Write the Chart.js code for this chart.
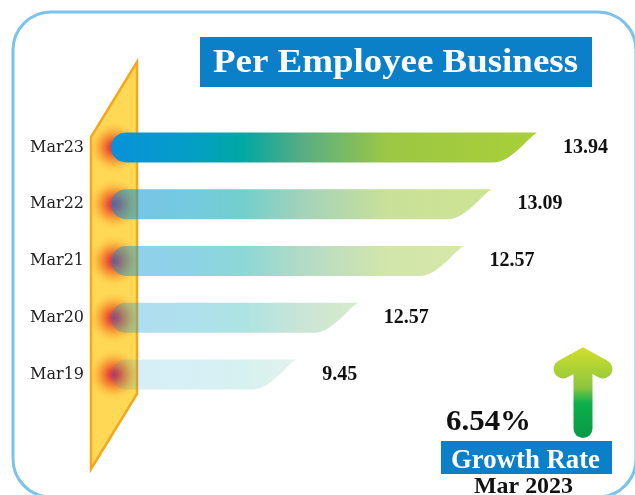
<!DOCTYPE html>
<html>
<head>
<meta charset="utf-8">
<title>Per Employee Business</title>
<script src="https://cdn.jsdelivr.net/npm/chart.js@4.4.0/dist/chart.umd.min.js"></script>
<style>
  html, body { margin: 0; padding: 0; background: #ffffff; }
  #grafico { display: block; }
</style>
</head>
<body>
<canvas id="grafico" width="635" height="495"></canvas>
<script>
// Datos del gráfico (de arriba hacia abajo)
var categorias = ["Mar23", "Mar22", "Mar21", "Mar20", "Mar19"];
// longitud de cada barra
var valoresBarras = [13.94, 13.09, 12.57, 10.6, 9.45];
// texto que aparece al final de cada barra
var etiquetasValores = ["13.94", "13.09", "12.57", "12.57", "9.45"];
var ejeMin = 6;
var ejeMax = 15;

var titulo = "Per Employee Business";
var tasaCrecimiento = "6.54%";
var textoCrecimiento = "Growth Rate";
var periodo = "Mar 2023";

// Opacidad de cada barra (la más reciente es sólida)
var opacidades = [1, 0.55, 0.45, 0.32, 0.16];

// Escribe un texto estirado/encogido a un ancho fijo
function textoAjustado(ctx, texto, x, y, ancho) {
    var w = ctx.measureText(texto).width;
    ctx.save();
    ctx.translate(x, y);
    ctx.scale(ancho / w, 1);
    ctx.fillText(texto, 0, 0);
    ctx.restore();
}

// Forma de la barra: extremo izquierdo redondo, derecho en "ola"
function trazarBarra(ctx, base, punta, cy, h) {
    var arriba = cy - h / 2, abajo = cy + h / 2, r = h / 2, cola = 44;
    ctx.beginPath();
    ctx.moveTo(base + r, arriba);
    ctx.lineTo(punta, arriba);
    ctx.bezierCurveTo(punta - 10, arriba + 6, punta - cola + 18, abajo, punta - cola, abajo);
    ctx.lineTo(base + r, abajo);
    ctx.arc(base + r, cy, r, Math.PI / 2, Math.PI * 1.5);
    ctx.closePath();
}

function trazarPanelAmarillo(ctx) {
    ctx.beginPath();
    ctx.moveTo(137, 62);
    ctx.lineTo(137, 394);
    ctx.lineTo(91, 469);
    ctx.lineTo(91, 137);
    ctx.closePath();
}

var decoracion = {
    id: "decoracion",
    beforeDraw: function(chart) {
        var ctx = chart.ctx;
        ctx.save();
        ctx.fillStyle = "#ffffff";
        ctx.fillRect(0, 0, chart.width, chart.height);
        // marco redondeado
        ctx.strokeStyle = "#7cc3ec";
        ctx.lineWidth = 3;
        ctx.beginPath();
        ctx.roundRect(13, 12, 623, 485, 38);
        ctx.stroke();
        ctx.restore();
    },
    beforeDatasetsDraw: function(chart) {
        var ctx = chart.ctx;
        var barras = chart.getDatasetMeta(0).data;
        ctx.save();
        trazarPanelAmarillo(ctx);
        ctx.fillStyle = "#ffd955";
        ctx.fill();
        // brillos rojizos donde empieza cada barra
        ctx.save();
        trazarPanelAmarillo(ctx);
        ctx.clip();
        for (var i = 0; i < barras.length; i++) {
            var cy = barras[i].y;
            var g = ctx.createRadialGradient(114, cy, 0, 114, cy, 27);
            g.addColorStop(0, "rgba(200,30,80,0.95)");
            g.addColorStop(0.2, "rgba(232,60,50,0.9)");
            g.addColorStop(0.5, "rgba(245,130,40,0.7)");
            g.addColorStop(1, "rgba(255,217,85,0)");
            ctx.fillStyle = g;
            ctx.fillRect(80, cy - 30, 70, 60);
        }
        ctx.restore();
        trazarPanelAmarillo(ctx);
        ctx.strokeStyle = "#f6a71c";
        ctx.lineWidth = 2.5;
        ctx.stroke();
        ctx.restore();
    },
    afterDatasetsDraw: function(chart) {
        var ctx = chart.ctx;
        var barras = chart.getDatasetMeta(0).data;
        var inicio = chart.chartArea.left;
        var fin = barras[0].x;
        ctx.save();
        for (var i = 0; i < barras.length; i++) {
            var b = barras[i];
            var g = ctx.createLinearGradient(inicio, 0, fin, 0);
            g.addColorStop(0, "#0891d9");
            g.addColorStop(0.2, "#039fc4");
            g.addColorStop(0.31, "#00a8a2");
            g.addColorStop(0.45, "#58ad83");
            g.addColorStop(0.65, "#9cc744");
            g.addColorStop(1, "#a9cf38");
            ctx.globalAlpha = opacidades[i];
            ctx.fillStyle = g;
            trazarBarra(ctx, b.base, b.x, b.y, b.height);
            ctx.fill();
        }
        ctx.globalAlpha = 1;
        // etiquetas de valor
        ctx.fillStyle = "#111111";
        ctx.font = "bold 20px 'Liberation Serif'";
        ctx.textBaseline = "middle";
        ctx.textAlign = "left";
        for (var j = 0; j < barras.length; j++) {
            ctx.fillText(etiquetasValores[j], barras[j].x + 26, barras[j].y);
        }
        ctx.restore();
    },
    afterDraw: function(chart) {
        var ctx = chart.ctx;
        ctx.save();
        // título
        ctx.fillStyle = "#0b7fc7";
        ctx.fillRect(200, 37, 392, 50);
        ctx.fillStyle = "#ffffff";
        ctx.font = "bold 34px 'Liberation Serif'";
        ctx.textBaseline = "alphabetic";
        textoAjustado(ctx, titulo, 213, 72, 365);

        // flecha de crecimiento
        var gf = ctx.createLinearGradient(0, 346, 0, 438);
        gf.addColorStop(0, "#d3e02a");
        gf.addColorStop(0.45, "#8cc63f");
        gf.addColorStop(0.62, "#0db04b");
        gf.addColorStop(1, "#0a9847");
        ctx.strokeStyle = gf;
        ctx.lineWidth = 19;
        ctx.lineCap = "round";
        ctx.lineJoin = "miter";
        ctx.beginPath();
        ctx.moveTo(563, 369);
        ctx.lineTo(583, 358);
        ctx.lineTo(603, 369);
        ctx.stroke();
        ctx.beginPath();
        ctx.moveTo(583, 362);
        ctx.lineTo(583, 428.5);
        ctx.stroke();

        // tasa de crecimiento
        ctx.fillStyle = "#111111";
        ctx.font = "bold 30px 'Liberation Serif'";
        textoAjustado(ctx, tasaCrecimiento, 446, 430, 85);
        ctx.fillStyle = "#0b7fc7";
        ctx.fillRect(441, 441, 171, 33);
        ctx.fillStyle = "#ffffff";
        ctx.font = "bold 27px 'Liberation Serif'";
        textoAjustado(ctx, textoCrecimiento, 451, 468, 149);
        ctx.fillStyle = "#111111";
        ctx.font = "bold 24px 'Liberation Serif'";
        textoAjustado(ctx, periodo, 474, 493, 99);
        ctx.restore();
    }
};

var config = {
    type: "bar",
    data: {
        labels: categorias,
        datasets: [
            {
                label: "Per Employee Business",
                data: valoresBarras,
                base: ejeMin,
                backgroundColor: "rgba(0,0,0,0)",
                borderWidth: 0,
                barThickness: 30
            }
        ]
    },
    options: {
        indexAxis: "y",
        responsive: false,
        animation: false,
        layout: {
            padding: { top: 119, bottom: 92, left: 0, right: 41 }
        },
        plugins: {
            legend: { display: false },
            tooltip: { enabled: false },
            title: { display: false }
        },
        scales: {
            x: {
                display: false,
                min: ejeMin,
                max: ejeMax
            },
            y: {
                grid: { display: false, drawTicks: false },
                border: { display: false },
                ticks: {
                    padding: 27,
                    color: "#222222",
                    font: { family: "DejaVu Serif", size: 16 }
                },
                afterFit: function(escala) {
                    escala.width = 111;
                }
            }
        }
    },
    plugins: [decoracion]
};

new Chart(document.getElementById("grafico").getContext("2d"), config);
</script>
</body>
</html>
